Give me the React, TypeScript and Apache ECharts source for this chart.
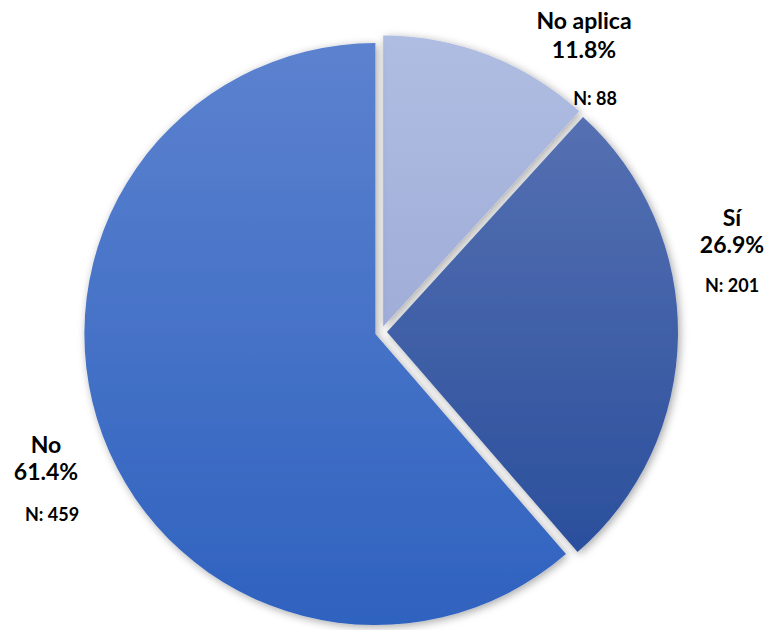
import React, { useEffect, useRef } from "react";
import * as echarts from "echarts";

const categories = ["No aplica", "Sí", "No"];
const counts = [88, 201, 459];
const topColors = ["#b0bde2", "#5570b2", "#5c82cf"];
const bottomColors = ["#9fadd8", "#2b4f9c", "#2f62bf"];
// label placement: [centerX, titleMidY, pctMidY, nCenterX, nMidY]
const labelPlacement: number[][] = [
  [584, 19.5, 49, 595, 97.5],
  [732, 217, 244, 732, 285],
  [46, 443.5, 471, 52, 513.5],
];

export default function App() {
  const ref = useRef<HTMLDivElement>(null);
  useEffect(() => {
    if (!ref.current) return;
    const chart = echarts.init(ref.current, null, { renderer: "svg" });
    const total = counts.reduce((a, b) => a + b, 0);
    const font = "Lato";
    const texts: any[] = [];
    categories.forEach((c, i) => {
      const [cx, ty, py, nx, ny] = labelPlacement[i];
      texts.push(
        {
          type: "text",
          x: cx,
          y: ty,
          style: { text: c, fontSize: 23, fontWeight: "bold", fontFamily: font, fill: "#000", align: "center", verticalAlign: "middle" },
        },
        {
          type: "text",
          x: cx,
          y: py,
          style: {
            text: ((counts[i] / total) * 100).toFixed(1) + "%",
            fontSize: 23,
            fontWeight: "bold",
            fontFamily: font,
            fill: "#000",
            align: "center",
            verticalAlign: "middle",
          },
        },
        {
          type: "text",
          x: nx,
          y: ny,
          style: { text: "N: " + counts[i], fontSize: 18, fontWeight: "bold", fontFamily: font, fill: "#000", align: "center", verticalAlign: "middle" },
        }
      );
    });
    chart.setOption({
      animation: false,
      backgroundColor: "#ffffff",
      graphic: texts,
      series: [
        {
          type: "pie",
          center: [381, 332],
          radius: [0, 291],
          startAngle: 90,
          clockwise: true,
          selectedMode: "multiple",
          selectedOffset: 6,
          emphasis: { disabled: true },
          label: { show: false },
          labelLine: { show: false },
          itemStyle: {
            shadowBlur: 8,
            shadowColor: "rgba(0,0,0,0.35)",
            shadowOffsetX: 2,
            shadowOffsetY: 2,
          },
          data: categories.map((c, i) => {
            const grad = new echarts.graphic.LinearGradient(0, 0, 0, 1, [
              { offset: 0, color: topColors[i] },
              { offset: 1, color: bottomColors[i] },
            ]);
            return {
              name: c,
              value: counts[i],
              selected: true,
              itemStyle: { color: grad },
              select: { itemStyle: { color: grad } },
            };
          }),
        },
      ],
    });
    return () => chart.dispose();
  }, []);
  return (
    <div
      ref={ref}
      style={{ position: "fixed", left: 0, top: 0, width: 770, height: 630 }}
    />
  );
}
